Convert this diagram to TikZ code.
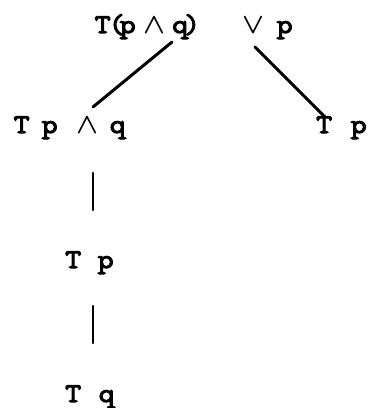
\documentclass[tikz,border=0pt]{standalone}
\usepackage{amsmath}
\usepackage{graphicx}
\usepackage{fontspec}
\newfontfamily\twfont{Latin Modern Mono}[FakeBold=4,FakeStretch=1.15]
\newcommand{\gl}[2]{\hspace*{#1pt}\makebox[0pt]{#2}}
\newcommand{\wdg}{\scalebox{1.15}{$\boldsymbol{\wedge}$}}
\newcommand{\vlee}{\scalebox{1.15}{$\boldsymbol{\vee}$}}
\begin{document}
\begin{tikzpicture}[x=1pt,y=-1pt,
  lbl/.style={inner sep=0pt, anchor=base west, font=\twfont\fontsize{27}{30}\selectfont},
  edge/.style={line width=3pt, line cap=round},
  vedge/.style={line width=2.6pt, line cap=round}]
\useasboundingbox (0,0) rectangle (370,408);
\node[lbl] (top) at (102.5,33) {\gl{0}{T}\gl{14}{(}\gl{11}{p}\gl{26.5}{\wdg}\gl{26}{q}\gl{12}{)}\gl{61.5}{\vlee}\gl{31}{p}};
\node[lbl] (left) at (21.5,133) {\gl{0}{T}\gl{28}{p}\gl{38}{\wdg}\gl{30}{q}};
\node[lbl] (right) at (324,133) {\gl{0}{T}\gl{34.5}{p}};
\node[lbl] (mid) at (73,268) {\gl{0}{T}\gl{32.5}{p}};
\node[lbl] (bot) at (73,402) {\gl{0}{T}\gl{33.5}{q}};
\coordinate (a1) at (172,42);
\coordinate (a2) at (93,107);
\coordinate (b1) at (255,47);
\coordinate (b2) at (325,117);
\coordinate (c1) at (93,173);
\coordinate (c2) at (93,210);
\coordinate (d1) at (93,306);
\coordinate (d2) at (93,343);
\draw[edge] (a1) -- (a2);
\draw[edge] (b1) -- (b2);
\draw[vedge] (c1) -- (c2);
\draw[vedge, line width=2.2pt] (d1) -- (d2);
\end{tikzpicture}
\end{document}
